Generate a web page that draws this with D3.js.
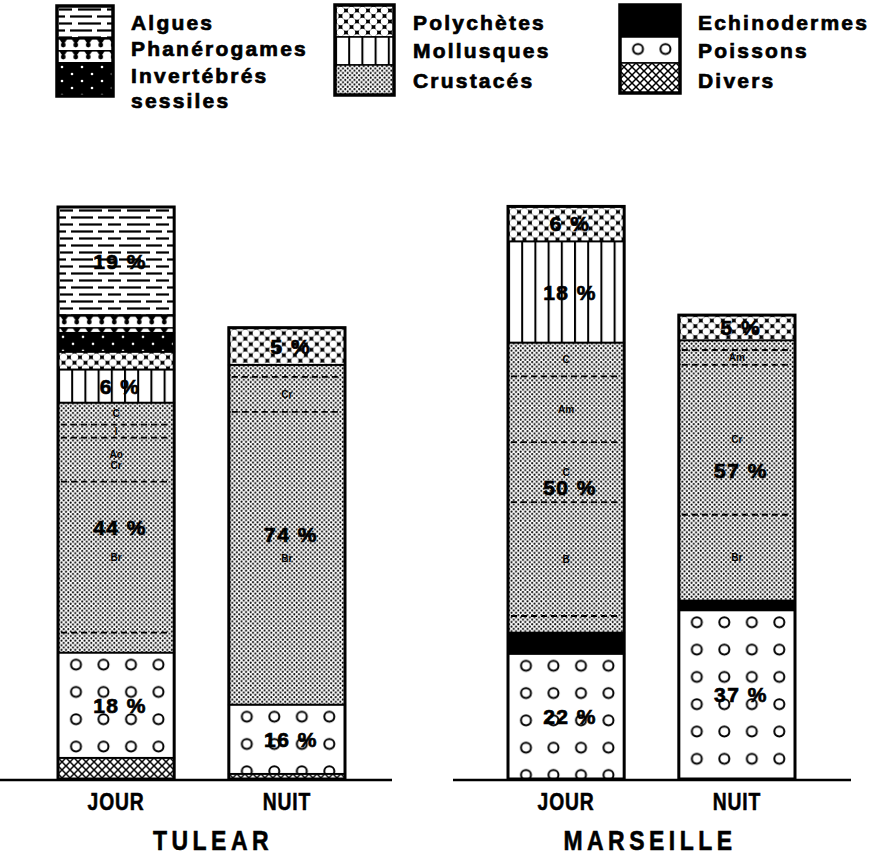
<!DOCTYPE html>
<html><head><meta charset="utf-8">
<script src="https://cdn.jsdelivr.net/npm/d3@7"></script>
<style>body{margin:0;background:#fff} svg{display:block}</style>
</head><body><svg id="c" width="879" height="856"></svg>
<script>
// ---------------- DATA ----------------
const sites = ["TULEAR", "MARSEILLE"];
const periods = ["JOUR", "NUIT"];
// stacking order, bottom -> top
const categories = ["Divers", "Poissons", "Echinodermes", "Crustacés", "Mollusques", "Polychètes", "Invertébrés sessiles", "Phanérogames", "Algues"];
// values per bar: [Tulear jour, Tulear nuit, Marseille jour, Marseille nuit]  (Tulear jour total = 100)
const divers       = [3.7, 0.9, 0, 0];
const poissons     = [18.4, 12.1, 21.9, 29.5];
const echinodermes = [0, 0, 3.7, 1.7];
const crustaces    = [43.7, 59.4, 50.7, 45.5];
const mollusques   = [5.8, 0, 17.7, 0];
const polychetes   = [3.1, 6.5, 6.1, 4.4];
const invertebres  = [3.3, 0, 0, 0];
const phanerogames = [3.1, 0, 0, 0];
const algues       = [18.9, 0, 0, 0];
// percentage labels printed in the bars
const lblAlgues     = ["19 %", "", "", ""];
const lblMollusques = ["6 %", "", "18 %", ""];
const lblPolychetes = ["", "5 %", "6 %", "5 %"];
const lblCrustaces  = ["44 %", "74 %", "50 %", "57 %"];
const lblPoissons   = ["18 %", "16 %", "22 %", "37 %"];
// crustacean sub-groups, top -> bottom: [label, value]
const crustSubTJ = [["C", 3.85], ["I", 2.27], ["Ao\nCr", 7.69], ["Br", 26.4], ["", 3.49]];
const crustSubTN = [["", 2.1], ["Cr", 6.1], ["Br", 51.2]];
const crustSubMJ = [["C", 5.9], ["Am", 11.5], ["C", 10.5], ["B", 19.9], ["", 2.9]];
const crustSubMN = [["", 1.7], ["Am", 2.6], ["Cr", 26.2], ["Br", 15.0]];
// legend
const legendCol1 = ["Algues", "Phanérogames", "Invertébrés sessiles"];
const legendCol2 = ["Polychètes", "Mollusques", "Crustacés"];
const legendCol3 = ["Echinodermes", "Poissons", "Divers"];

// ---------------- SETUP ----------------
const svg = d3.select("#c");
const defs = svg.append("defs");
const FONT = "'Liberation Sans', Arial, sans-serif";

const seriesArrays = [divers, poissons, echinodermes, crustaces, mollusques, polychetes, invertebres, phanerogames, algues];
const patternType = {"Divers":"divers","Poissons":"poissons","Echinodermes":"echino","Crustacés":"crust","Mollusques":"moll","Polychètes":"poly","Invertébrés sessiles":"invert","Phanérogames":"phan","Algues":"algues"};
const labelArrays = {"Algues": lblAlgues, "Mollusques": lblMollusques, "Polychètes": lblPolychetes, "Crustacés": lblCrustaces, "Poissons": lblPoissons};
const crustSubs = [crustSubTJ, crustSubTN, crustSubMJ, crustSubMN];

let pid = 0;
function makePattern(type, x0, y0) {
  const sizes = {algues:[48,14], phan:[12.5,12], invert:[20,14], poly:[11,11], moll:[13.2,20], crust:[4.6,4.6], echino:[10,10], poissons:[27.5,27.3], divers:[8,8]};
  const [w, h] = sizes[type];
  const id = "pat" + (pid++);
  const p = defs.append("pattern").attr("id", id).attr("patternUnits", "userSpaceOnUse")
    .attr("x", x0).attr("y", y0).attr("width", w).attr("height", h);
  const bg = c => p.append("rect").attr("width", w).attr("height", h).attr("fill", c);
  switch (type) {
    case "algues":
      bg("#fff");
      [[3.5,2,15],[3.5,21,44],[10.5,0,8],[10.5,13,35],[10.5,40,48]].forEach(([yy,a,b]) =>
        p.append("rect").attr("x", a).attr("y", yy - 1.1).attr("width", b - a).attr("height", 2.2).attr("fill", "#000"));
      break;
    case "phan":
      bg("#fff");
      p.append("rect").attr("width", w).attr("height", 1.6).attr("fill", "#000");
      p.append("path").attr("d", "M2.2,1 L10.3,1 L6.25,7 Z").attr("fill", "#000");
      p.append("circle").attr("cx", 6.25).attr("cy", 7).attr("r", 2.4).attr("fill", "#000");
      break;
    case "invert":
      bg("#000");
      p.append("circle").attr("cx", 5).attr("cy", 4).attr("r", 1.3).attr("fill", "#fff");
      p.append("circle").attr("cx", 15).attr("cy", 11).attr("r", 1.3).attr("fill", "#fff");
      break;
    case "poly":
      bg("#000");
      [[0,0],[11,0],[0,11],[11,11],[5.5,5.5]].forEach(([cx,cy]) =>
        p.append("circle").attr("cx", cx).attr("cy", cy).attr("r", 3.7).attr("fill", "#fff"));
      break;
    case "moll":
      bg("#fff");
      p.append("rect").attr("x", 0).attr("width", 2).attr("height", h).attr("fill", "#000");
      break;
    case "crust":
      bg("#fff");
      p.append("circle").attr("cx", 1.15).attr("cy", 1.15).attr("r", 1.05).attr("fill", "#000");
      p.append("circle").attr("cx", 3.45).attr("cy", 3.45).attr("r", 1.05).attr("fill", "#000");
      break;
    case "echino":
      bg("#000");
      break;
    case "poissons":
      bg("#fff");
      p.append("circle").attr("cx", 18).attr("cy", 12).attr("r", 5).attr("fill", "none").attr("stroke", "#000").attr("stroke-width", 2);
      break;
    case "divers":
      bg("#fff");
      p.append("path").attr("d", "M0,0L8,8M8,0L0,8").attr("stroke", "#000").attr("stroke-width", 1.5);
      break;
  }
  return "url(#" + id + ")";
}

// ---------------- SCALES ----------------
const y = d3.scaleLinear().domain([0, 100]).range([779, 207]);
const panelRange = {TULEAR: [58, 345], MARSEILLE: [508, 795]};
const axisExtent = {TULEAR: [0, 392], MARSEILLE: [453, 851]};
const titleX = {TULEAR: 213, MARSEILLE: 650};
const xScales = {};
sites.forEach(s => {
  xScales[s] = d3.scaleBand().domain(periods).range(panelRange[s]).paddingInner(0.32).paddingOuter(0);
});

// rows for stacking
const bars = [];
sites.forEach(s => periods.forEach(p => bars.push({site: s, period: p})));
const rows = bars.map((b, i) => {
  const r = {i};
  categories.forEach((c, k) => r[c] = seriesArrays[k][i]);
  return r;
});
const stacked = d3.stack().keys(categories)(rows);

// ---------------- BARS ----------------
const gBars = svg.append("g");
bars.forEach((b, i) => {
  const x = xScales[b.site];
  const bx = x(b.period), bw = x.bandwidth();
  stacked.forEach(series => {
    const [v0, v1] = series[i];
    if (v1 - v0 <= 0) return;
    const type = patternType[series.key];
    const top = y(v1), bottom = y(v0);
    gBars.append("rect")
      .attr("x", bx).attr("y", top).attr("width", bw).attr("height", bottom - top)
      .attr("fill", makePattern(type, bx, top))
      .attr("stroke", "#000").attr("stroke-width", 1.8);
  });
  // crustacean subdivisions
  const crustSeries = stacked.find(s => s.key === "Crustacés");
  let v = crustSeries[i][1];
  const subs = crustSubs[i];
  subs.forEach(([lab, size], j) => {
    const vb = v - size;
    if (lab) {
      const lines = lab.split("\n");
      const t = gBars.append("text")
        .attr("x", bx + bw / 2).attr("y", y((v + vb) / 2))
        .attr("text-anchor", "middle").attr("font-family", FONT)
        .attr("font-weight", "bold").attr("font-size", 10).attr("fill", "#000");
      lines.forEach((ln, li) => {
        t.append("tspan").attr("x", bx + bw / 2)
          .attr("dy", li === 0 ? (-(lines.length - 1) * 11 / 2 + 3.5) : 11)
          .text(ln);
      });
    }
    if (j < subs.length - 1) {
      gBars.append("line")
        .attr("x1", bx + 3).attr("x2", bx + bw - 3)
        .attr("y1", y(vb)).attr("y2", y(vb))
        .attr("stroke", "#000").attr("stroke-width", 1.8).attr("stroke-dasharray", "6,4");
    }
    v = vb;
  });
  // percentage labels
  stacked.forEach(series => {
    const arr = labelArrays[series.key];
    if (!arr || !arr[i]) return;
    const [v0, v1] = series[i];
    gBars.append("text")
      .attr("x", bx + bw / 2 + 4).attr("y", y((v0 + v1) / 2))
      .attr("dy", "0.36em").attr("text-anchor", "middle")
      .attr("font-family", FONT).attr("font-weight", "bold").attr("font-size", 21)
      .attr("letter-spacing", 1.5).attr("fill", "#000")
      .attr("stroke", "#000").attr("stroke-width", 0.7)
      .text(arr[i]);
  });
  // bar outline
  const total = d3.sum(seriesArrays, a => a[i]);
  gBars.append("rect")
    .attr("x", bx).attr("y", y(total)).attr("width", bw).attr("height", y(0) - y(total))
    .attr("fill", "none").attr("stroke", "#000").attr("stroke-width", 3);
});

// ---------------- AXES ----------------
sites.forEach(s => {
  svg.append("line")
    .attr("x1", axisExtent[s][0]).attr("x2", axisExtent[s][1])
    .attr("y1", y(0) + 1).attr("y2", y(0) + 1)
    .attr("stroke", "#000").attr("stroke-width", 2.5);
  const ax = svg.append("g").attr("transform", `translate(0,${y(0) + 1})`)
    .call(d3.axisBottom(xScales[s]).tickSize(0).tickPadding(12));
  ax.select(".domain").remove();
  ax.selectAll(".tick").each(function(d) {
    const tx = xScales[s](d) + xScales[s].bandwidth() / 2;
    d3.select(this).attr("transform", null);
    d3.select(this).select("text")
      .attr("transform", `translate(${tx},0) scale(0.84,1)`)
      .attr("x", 0).attr("y", 30).attr("dy", null)
      .attr("font-family", FONT).attr("font-weight", "bold")
      .attr("font-size", 23).attr("letter-spacing", 1).attr("fill", "#000")
      .attr("stroke", "#000").attr("stroke-width", 0.5);
  });
  svg.append("text")
    .attr("transform", `translate(${titleX[s]},850) scale(0.82,1)`)
    .attr("text-anchor", "middle")
    .attr("font-family", FONT).attr("font-weight", "bold").attr("font-size", 28)
    .attr("letter-spacing", 5.5).attr("fill", "#000")
    .attr("stroke", "#000").attr("stroke-width", 0.6).text(s);
});

// ---------------- LEGEND ----------------
const legendLayout = [
  {items: legendCol1, x: 57, w: 56, bounds: [6, 38, 63, 96], tx: 131, ty: [22, 48, 75]},
  {items: legendCol2, x: 335, w: 59, bounds: [5, 37, 65, 95], tx: 413, ty: [22, 50, 80]},
  {items: legendCol3, x: 620, w: 60, bounds: [5, 37, 63, 93], tx: 698, ty: [22, 50, 80]}
];
const gLeg = svg.append("g");
legendLayout.forEach(col => {
  col.items.forEach((name, k) => {
    const t0 = col.bounds[k], t1 = col.bounds[k + 1];
    gLeg.append("rect").attr("x", col.x).attr("y", t0).attr("width", col.w).attr("height", t1 - t0)
      .attr("fill", makePattern(patternType[name], col.x, t0))
      .attr("stroke", "#000").attr("stroke-width", 1.5);
    const words = name === "Invertébrés sessiles" ? ["Invertébrés", "sessiles"] : [name];
    words.forEach((wd, li) => {
      gLeg.append("text").attr("x", col.tx).attr("y", col.ty[k] + li * 25)
        .attr("dy", "0.36em").attr("font-family", FONT).attr("font-weight", "bold")
        .attr("font-size", 21).attr("letter-spacing", 2.2).attr("fill", "#000")
        .attr("stroke", "#000").attr("stroke-width", 0.7).text(wd);
    });
  });
  gLeg.append("rect").attr("x", col.x).attr("y", col.bounds[0]).attr("width", col.w)
    .attr("height", col.bounds[3] - col.bounds[0]).attr("fill", "none")
    .attr("stroke", "#000").attr("stroke-width", 3.5);
});
</script>
</body></html>
